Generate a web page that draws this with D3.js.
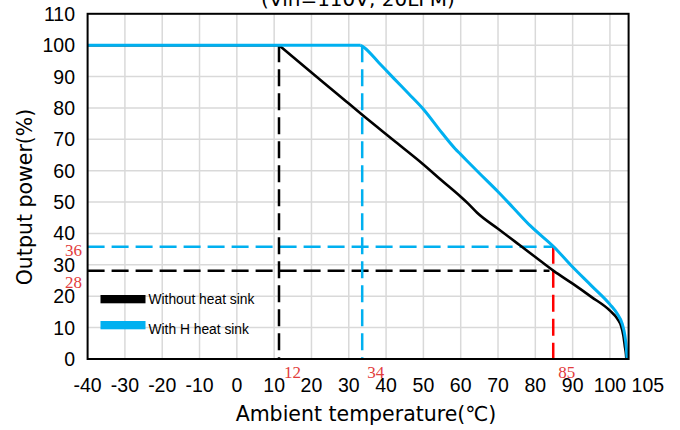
<!DOCTYPE html>
<html>
<head>
<meta charset="utf-8">
<script src="https://cdn.jsdelivr.net/npm/d3@7"></script>
<style>
html,body{margin:0;padding:0;background:#fff;}
svg{display:block;}
</style>
</head>
<body>
<script>
// ---- data ----
const xTickValues = [-40,-30,-20,-10,0,10,20,30,40,50,60,70,80,90,100];
const xEndLabel = "105";
const yTickValues = [0,10,20,30,40,50,60,70,80,90,100,110];

// flat (full power) segments
const blackFlatTemp  = [-40, 11.3];
const blackFlatPower = [100, 100];
const blueFlatTemp   = [-40, 33.2];
const blueFlatPower  = [100, 100];

// derating segments
const blackTemp  = [11.3, 20, 27, 34, 42, 50, 55, 60, 62, 64.4, 70, 75, 80, 85, 90, 95, 100, 102, 103, 103.6, 104.0, 104.3, 104.4];
const blackPower = [100, 91.3, 84.4, 77.4, 69.7, 62.0, 56.8, 51.7, 49.5, 46.6, 41.5, 37.0, 32.5, 28, 24.0, 19.8, 15.4, 12.8, 10.5, 7.5, 4, 1.5, 0];

const blueTemp  = [33.2, 34.2, 38, 42, 46, 50, 55, 58.5, 60, 65, 70, 74, 78.7, 85, 90, 95, 100, 102, 103.3, 104, 104.4, 104.6];
const bluePower = [100, 99.2, 94.5, 89.5, 84.6, 79.6, 72, 67, 65.2, 59.2, 53.3, 48.3, 42.4, 35.7, 29.3, 23.4, 17.4, 14.3, 11.2, 7.5, 3.5, 0];

const markTemps  = [11.3, 33.6, 84.8];
const markLabels = ["12", "34", "85"];
const levelPowers = [35.8, 28.1];
const levelLabels = ["36", "28"];

const legendLabels = ["Without heat sink", "With H heat sink"];
const titleText = "(Vin=110V, 20LFM)";
const xTitle = "Ambient temperature(\u2103)";
const yTitle = "Output power(%)";

// ---- layout ----
const W = 680, H = 430;
const BLACK = "#000000", BLUE = "#00b0f0", RED = "#ff0000", REDTXT = "#e23c3c", GRID = "#d9d9d9";

const svg = d3.select("body").append("svg").attr("width", W).attr("height", H);

const x = d3.scaleLinear().domain([-40, 105]).range([87.6, 628.6]);
const y = d3.scaleLinear().domain([0, 110]).range([359, 13.8]);

// grid
svg.append("g").selectAll("line").data(xTickValues.filter(v => v > -40))
  .join("line").attr("x1", d => x(d)).attr("x2", d => x(d))
  .attr("y1", y(0)).attr("y2", y(110))
  .attr("stroke", GRID).attr("stroke-width", 1.5);
svg.append("g").selectAll("line").data(yTickValues.filter(v => v > 0 && v < 110))
  .join("line").attr("y1", d => y(d)).attr("y2", d => y(d))
  .attr("x1", x(-40)).attr("x2", x(105))
  .attr("stroke", GRID).attr("stroke-width", 1.5);

// tick labels
const tickFont = "'Liberation Sans', Arial, sans-serif";
const tickSize = 19.5;
svg.append("g").selectAll("text").data(xTickValues).join("text")
  .attr("x", d => x(d)).attr("y", 392)
  .attr("text-anchor", "middle")
  .attr("font-family", tickFont).attr("font-size", tickSize).attr("fill", "#000")
  .text(d => d);
svg.append("text").attr("x", x(105) + 3).attr("y", 392)
  .attr("text-anchor", "start")
  .attr("font-family", tickFont).attr("font-size", tickSize).attr("fill", "#000")
  .text(xEndLabel);
svg.append("g").selectAll("text").data(yTickValues).join("text")
  .attr("x", 75).attr("y", d => y(d)).attr("dy", "0.36em")
  .attr("text-anchor", "end")
  .attr("font-family", tickFont).attr("font-size", tickSize).attr("fill", "#000")
  .text(d => d);

// dashed guide lines
const dash = "17,7";
function seg(x1, y1, x2, y2, color) {
  svg.append("line").attr("x1", x(x1)).attr("y1", y(y1)).attr("x2", x(x2)).attr("y2", y(y2))
    .attr("stroke", color).attr("stroke-width", 2.5).attr("stroke-dasharray", dash);
}
seg(-40, levelPowers[0], markTemps[2], levelPowers[0], BLUE);
seg(-40, levelPowers[1], 83.8, levelPowers[1], BLACK);
seg(markTemps[0], 100, markTemps[0], 0, BLACK);
seg(markTemps[1], 100, markTemps[1], 0, BLUE);
seg(markTemps[2], levelPowers[0], markTemps[2], 0, RED);

// curves
const flatLine = d3.line().x(d => x(d[0])).y(d => y(d[1]));
const smoothLine = d3.line().x(d => x(d[0])).y(d => y(d[1])).curve(d3.curveMonotoneX);
const zip = (a, b) => a.map((t, i) => [t, b[i]]);

svg.append("path").attr("d", flatLine(zip(blackFlatTemp, blackFlatPower))).attr("fill", "none")
  .attr("stroke", BLACK).attr("stroke-width", 2.6);
svg.append("path").attr("d", smoothLine(zip(blackTemp, blackPower))).attr("fill", "none")
  .attr("stroke", BLACK).attr("stroke-width", 2.6).attr("stroke-linejoin", "round");
svg.append("path").attr("d", flatLine(zip(blueFlatTemp, blueFlatPower))).attr("fill", "none")
  .attr("stroke", BLUE).attr("stroke-width", 3);
svg.append("path").attr("d", smoothLine(zip(blueTemp, bluePower))).attr("fill", "none")
  .attr("stroke", BLUE).attr("stroke-width", 3).attr("stroke-linejoin", "round");

// plot frame
svg.append("rect").attr("x", x(-40)).attr("y", y(110))
  .attr("width", x(105) - x(-40)).attr("height", y(0) - y(110))
  .attr("fill", "none").attr("stroke", "#000").attr("stroke-width", 2);

// red annotations
const serif = "'Liberation Serif', 'Times New Roman', serif";
svg.append("g").selectAll("text").data(markTemps).join("text")
  .attr("x", d => x(d) + 5).attr("y", 378)
  .attr("font-family", serif).attr("font-size", 17).attr("fill", REDTXT)
  .text((d, i) => markLabels[i]);
svg.append("g").selectAll("text").data(levelPowers).join("text")
  .attr("x", 82).attr("y", (d, i) => y(d) + (i === 0 ? 9.5 : 17))
  .attr("text-anchor", "end")
  .attr("font-family", serif).attr("font-size", 17).attr("fill", REDTXT)
  .text((d, i) => levelLabels[i]);

// legend
const legColors = [BLACK, BLUE];
const leg = svg.append("g");
leg.selectAll("rect").data(legendLabels).join("rect")
  .attr("x", 100.5).attr("y", (d, i) => 295 + i * 26)
  .attr("width", 45).attr("height", 8.3)
  .attr("fill", (d, i) => legColors[i]);
leg.selectAll("text").data(legendLabels).join("text")
  .attr("x", 148.5).attr("y", (d, i) => 304 + i * 29.5)
  .attr("font-family", tickFont).attr("font-size", 13.8).attr("fill", "#000")
  .text(d => d);

// titles
const titleFont = "'DejaVu Sans', sans-serif";
svg.append("text").attr("x", 358).attr("y", 6)
  .attr("text-anchor", "middle")
  .attr("font-family", titleFont).attr("font-size", 20).attr("fill", "#000")
  .text(titleText);
svg.append("text").attr("x", 366).attr("y", 421)
  .attr("text-anchor", "middle")
  .attr("font-family", titleFont).attr("font-size", 20.5).attr("fill", "#000")
  .text(xTitle);
svg.append("text")
  .attr("transform", "translate(32,197) rotate(-90)")
  .attr("text-anchor", "middle")
  .attr("font-family", titleFont).attr("font-size", 20.5).attr("fill", "#000")
  .text(yTitle);
</script>
</body>
</html>
